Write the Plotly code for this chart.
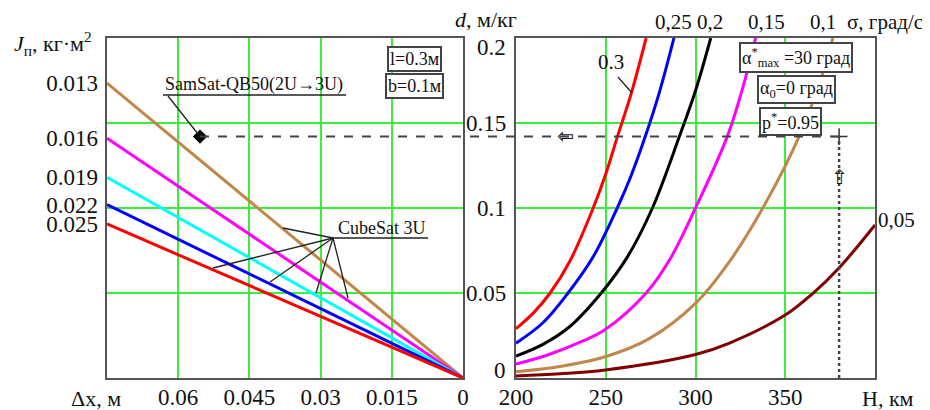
import plotly.graph_objects as go

# ---------------- data ----------------
# left panel: d (m/kg) vs dx (m); straight lines from dx=0.075 to 0
J_labels = ["0.013", "0.016", "0.019", "0.022", "0.025"]
left_colors = ["#c0864a", "#ff00ff", "#00ffff", "#0000ff", "#ff0000"]
dx_ends = [0.075, 0.0]
d_start = [0.1735, 0.141, 0.118, 0.102, 0.0906]

samsat_dx = 0.0554
samsat_d = 0.142
H_target = 380

# right panel: d (m/kg) vs H (km), for sigma values
sigma_labels = ["0.3", "0,25", "0,2", "0,15", "0,1", "0,05"]
right_colors = ["#ff0000", "#0000ff", "#000000", "#ff00ff", "#c0864a", "#800000"]
H_red = [200, 210, 219, 230, 243, 250, 256.5, 264, 272.5]
d_red = [0.029, 0.0386, 0.05, 0.0687, 0.1, 0.12, 0.142, 0.1667, 0.2]
H_blue = [200, 215, 229, 243, 256.4, 264, 272, 280, 288]
d_blue = [0.0205, 0.0325, 0.05, 0.0713, 0.1, 0.1187, 0.142, 0.1685, 0.2]
H_black = [200, 215, 230, 247.5, 262, 276, 291, 300, 308.5]
d_black = [0.0129, 0.0198, 0.0303, 0.05, 0.0711, 0.1, 0.142, 0.169, 0.2]
H_mag = [200, 218, 236.7, 249.7, 272.5, 286, 300, 317.7, 326, 333.5]
d_mag = [0.0082, 0.0137, 0.0215, 0.0285, 0.05, 0.0703, 0.1, 0.142, 0.1695, 0.2]
H_brown = [200, 224.6, 249.7, 274, 300, 318.6, 337.5, 357.7, 370.8, 376.5]
d_brown = [0.0037, 0.0068, 0.0125, 0.023, 0.0439, 0.068, 0.1, 0.142, 0.179, 0.2]
H_dred = [200, 224.6, 249.7, 300, 318.6, 350, 365, 380.6, 400]
d_dred = [0.0012, 0.0025, 0.0047, 0.0138, 0.0204, 0.037, 0.0494, 0.0655, 0.09]
right_H = [H_red, H_blue, H_black, H_mag, H_brown, H_dred]
right_d = [d_red, d_blue, d_black, d_mag, d_brown, d_dred]

left_xticks = [0.06, 0.045, 0.03, 0.015, 0]
left_xticktext = ["0.06", "0.045", "0.03", "0.015", "0"]
right_xticks = [200, 250, 300, 350]
yticks = [0, 0.05, 0.1, 0.15, 0.2]
yticktext = ["0", "0.05", "0.1", "0.15", "0.2"]

# ---------------- layout geometry ----------------
# the page body has an 8px margin, so the figure starts at (8, 8) in the window
OFF = 8
W, Hh = 930 - OFF, 410 - OFF
def px(x):
    return (x - OFF) / W
def py(y):
    return 1 - (y - OFF) / Hh

L_dom = [px(107), px(463)]
R_dom = [px(516), px(875)]
Y_dom = [py(378), py(38)]

FONT = "Liberation Serif"
GRID = "#3cee3c"
BOX = "#555555"
TS = 23

fig = go.Figure()

for c, d0 in zip(left_colors, d_start):
    fig.add_trace(go.Scatter(x=dx_ends, y=[d0, 0], mode="lines",
                             line=dict(color=c, width=3), xaxis="x", yaxis="y",
                             hoverinfo="skip"))
# invisible trace to host J tick-label axis
fig.add_trace(go.Scatter(x=[dx_ends[0]] * len(d_start), y=d_start, mode="markers",
                         marker=dict(opacity=0), xaxis="x", yaxis="y3", hoverinfo="skip"))

for c, hx, dy in zip(right_colors, right_H, right_d):
    fig.add_trace(go.Scatter(x=hx, y=dy, mode="lines",
                             line=dict(color=c, width=3, shape="spline", smoothing=1),
                             xaxis="x2", yaxis="y2", hoverinfo="skip"))

# samsat diamond
fig.add_trace(go.Scatter(x=[samsat_dx], y=[samsat_d], mode="markers",
                         marker=dict(symbol="diamond", size=11, color="black"),
                         xaxis="x", yaxis="y", hoverinfo="skip"))
# plus at target
fig.add_trace(go.Scatter(x=[H_target], y=[samsat_d], mode="markers",
                         marker=dict(symbol="cross-thin", size=12, line=dict(color="#333", width=1.5)),
                         xaxis="x2", yaxis="y2", hoverinfo="skip"))

tickfont = dict(family=FONT, size=TS, color="#111")
axis_common = dict(showline=True, mirror=True, linecolor=BOX, linewidth=2,
                   gridcolor=GRID, gridwidth=2, zeroline=False, ticks="",
                   tickfont=tickfont, automargin=False)

fig.update_layout(
    template="none",
    width=W, height=Hh, margin=dict(l=0, r=0, t=0, b=0, pad=0),
    paper_bgcolor="white", plot_bgcolor="white", showlegend=False,
    xaxis=dict(domain=L_dom, range=[0.075, 0], anchor="y", tickvals=left_xticks,
               ticktext=left_xticktext, ticklabelstandoff=-3, **axis_common),
    yaxis=dict(domain=Y_dom, range=[0, 0.2], anchor="x", tickvals=yticks,
               showticklabels=False, **axis_common),
    yaxis3=dict(overlaying="y", anchor="x", side="left", range=[0, 0.2],
                tickvals=d_start, ticktext=J_labels, showgrid=False, zeroline=False,
                showline=False, ticks="", tickfont=tickfont, ticklabelstandoff=8,
                automargin=False),
    xaxis2=dict(domain=R_dom, range=[200, 400], anchor="y2", tickvals=right_xticks,
                ticklabelstandoff=-3, **axis_common),
    yaxis2=dict(domain=Y_dom, range=[0, 0.2], anchor="x2", tickvals=yticks,
                showticklabels=False, **axis_common),
)

def lx(v):
    return L_dom[0] + (0.075 - v) / 0.075 * (L_dom[1] - L_dom[0])
def rx(v):
    return R_dom[0] + (v - 200) / 200 * (R_dom[1] - R_dom[0])
def yy(v):
    return Y_dom[0] + v / 0.2 * (Y_dom[1] - Y_dom[0])

shapes = []
# dashed reference line across both panels
shapes.append(dict(type="line", xref="paper", yref="paper",
                   x0=lx(samsat_dx), x1=rx(H_target) + 4 / W, y0=yy(samsat_d), y1=yy(samsat_d),
                   line=dict(color="#444", width=2, dash="dash")))
shapes.append(dict(type="line", xref="x2", yref="y2", x0=H_target, x1=H_target, y0=0, y1=samsat_d,
                   line=dict(color="#444", width=2.5, dash="dot")))
# pointer lines
def seg(x0, y0, x1, y1, w=1.3, color="#222"):
    shapes.append(dict(type="line", xref="paper", yref="paper",
                       x0=px(x0), y0=py(y0), x1=px(x1), y1=py(y1),
                       line=dict(color=color, width=w)))
seg(163, 95, 346, 95)
seg(168, 96, 198, 134)
seg(333, 238, 428, 238)
for ex, ey in [(283, 228), (213, 268), (270, 282), (316, 293), (348, 298)]:
    seg(333, 238, ex, ey)
seg(618, 77, 632, 93)
fig.update_layout(shapes=shapes)

ann = []
def text(x, y, t, size=21, xanchor="center", family=FONT, **kw):
    ann.append(dict(x=px(x), y=py(y), xref="paper", yref="paper", text=t, showarrow=False,
                    xanchor=xanchor, yanchor="middle",
                    font=dict(family=family, size=size, color="#111"), **kw))

# right y tick labels (edge labels nudged inward, as in the reference)
for v, t in zip(yticks, yticktext):
    shift = 8 if v == yticks[0] else (-9 if v == yticks[-1] else 0)
    ann.append(dict(x=R_dom[0], y=v, xref="paper", yref="y2", text=t, showarrow=False,
                    xanchor="right", yanchor="middle", xshift=-8, yshift=shift,
                    font=dict(family=FONT, size=TS, color="#111")))

text(12, 43, "<i>J</i><sub>п</sub>, кг·м<sup>2</sup>", size=22, xanchor="left")
text(486, 20, "<i>d</i>, м/кг", size=22)
text(96, 398, "Δx, м", size=22)
text(888, 398, "H, км", size=22)
text(254, 84, "SamSat-QB50(2U→3U)", size=18)
text(382, 228, "CubeSat 3U", size=18)
text(611, 62, sigma_labels[0])
text(673, 22, sigma_labels[1])
text(710, 22, sigma_labels[2])
text(766, 22, sigma_labels[3])
text(823, 22, sigma_labels[4])
text(885, 22, "σ, град/с")
text(896, 220, sigma_labels[5])
boxkw = dict(bordercolor="#444", borderwidth=2, bgcolor="white", borderpad=1)
text(414, 59, "l=0.3м", size=18, **boxkw)
text(414, 86, "b=0.1м", size=18, **boxkw)
text(796, 58, "α<sup>*</sup><sub>max</sub> =30 град", size=18, **boxkw)
text(796, 89, "α<sub>0</sub>=0 град", size=18, **boxkw)
text(790, 121, "p<sup>*</sup>=0.95", size=18, **boxkw)
text(565, 136, "⇦", size=20, family="DejaVu Sans")
text(839, 177, "⇧", size=20, family="DejaVu Sans")
fig.update_layout(annotations=ann)

fig.write_html("out.html")
